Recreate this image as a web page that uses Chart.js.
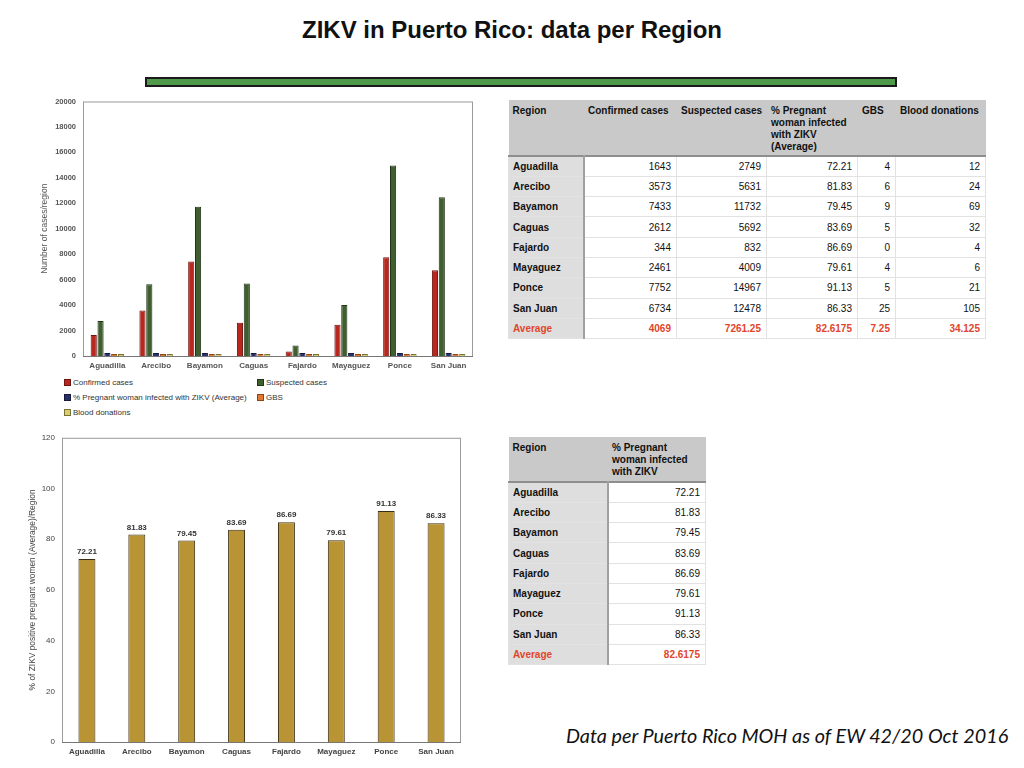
<!DOCTYPE html>
<html>
<head>
<meta charset="utf-8">
<script src="https://cdn.jsdelivr.net/npm/chart.js@4"></script>
<style>
  html, body { margin: 0; padding: 0; background: #fff; }
  body { width: 1024px; height: 768px; position: relative; overflow: hidden; font-family: "Liberation Sans", Arial, sans-serif; }
  #title { position: absolute; left: 0; width: 1024px; top: 16px; text-align: center; font-size: 24px; font-weight: bold; color: #111; }
  #bar { position: absolute; left: 145px; top: 77px; width: 748px; height: 6px; background: #4f9a4a; border: 2px solid #1a1a1a; }
  .chartbox { position: absolute; }
  #legend1 { position: absolute; left: 64px; top: 377px; width: 400px; font-size: 8px; color: #333; display: grid; grid-template-columns: 193px 200px; row-gap: 4px; }
  #legend1 span.sw { display: inline-block; width: 5px; height: 5px; margin-right: 2px; border: 1px solid #555; vertical-align: -1px; }
  #legend1 div { white-space: nowrap; height: 11px; line-height: 11px; }
  table { position: absolute; border-collapse: collapse; font-size: 10px; color: #111; table-layout: fixed; }
  th, td { box-sizing: border-box; }
  th { background: #c9c9c9; font-weight: bold; text-align: left; vertical-align: top; padding: 5px 2px 0 4px; line-height: 12px; border-right: 1px solid #c9c9c9; }
  thead tr { border-bottom: 2px solid #8e8e8e; }
  td { height: 20.3px; padding: 0 5px; text-align: right; border: 1px solid #e2e2e2; }
  td.rg { background: #dedede; font-weight: bold; text-align: left; border-right: 2px solid #a0a0a0; padding-left: 4px; }
  tr.avg td { color: #e0452b; font-weight: bold; }
  #footer { position: absolute; left: 566px; top: 723px; font-family: Lato, "Open Sans", sans-serif; font-style: italic; font-size: 19.8px; color: #111; white-space: nowrap; }
</style>
</head>
<body>
<div id="title">ZIKV in Puerto Rico: data per Region</div>
<div id="bar"></div>

<div class="chartbox" style="left:40px; top:90px; width:440px; height:285px;"><canvas id="casesChart"></canvas></div>
<div id="legend1"></div>

<div class="chartbox" style="left:28px; top:426px; width:442px; height:334px;"><canvas id="pregChart"></canvas></div>

<table id="table1" style="left:508px; top:100px; width:477px;"></table>
<table id="table2" style="left:508px; top:437px; width:197px;"></table>

<div id="footer">Data per Puerto Rico MOH as of EW 42/20 Oct 2016</div>

<script>
// data per region (Puerto Rico MOH, EW 42)
const regions = ['Aguadilla', 'Arecibo', 'Bayamon', 'Caguas', 'Fajardo', 'Mayaguez', 'Ponce', 'San Juan'];
const confirmedCases = [1643, 3573, 7433, 2612, 344, 2461, 7752, 6734];
const suspectedCases = [2749, 5631, 11732, 5692, 832, 4009, 14967, 12478];
const pregnantPct = [72.21, 81.83, 79.45, 83.69, 86.69, 79.61, 91.13, 86.33];
const gbsCases = [4, 6, 9, 5, 0, 4, 5, 25];
const bloodDonations = [12, 24, 69, 32, 4, 6, 21, 105];
const averages = ['4069', '7261.25', '82.6175', '7.25', '34.125'];
const casesTicks = [0, 2000, 4000, 6000, 8000, 10000, 12000, 14000, 16000, 18000, 20000];
const pregTicks = [0, 20, 40, 60, 80, 100, 120];

const tickFont = { family: 'Liberation Sans', size: 8 };
const boldFont = { family: 'Liberation Sans', size: 8, weight: 'bold' };

// frame around plot area (Excel style)
const plotFrame = {
    id: 'plotFrame',
    beforeDatasetsDraw(chart) {
        const a = chart.chartArea, ctx = chart.ctx;
        ctx.save();
        ctx.strokeStyle = '#9a9a9a';
        ctx.lineWidth = 1;
        ctx.strokeRect(a.left + 0.5, a.top + 0.5, a.right - a.left - 1, a.bottom - a.top);
        ctx.strokeStyle = '#777';
        ctx.beginPath();
        ctx.moveTo(a.left, a.bottom + 0.5);
        ctx.lineTo(a.right, a.bottom + 0.5);
        ctx.stroke();
        ctx.restore();
    }
};

// value labels above the bars
const valueLabels = {
    id: 'valueLabels',
    afterDatasetsDraw(chart) {
        const ctx = chart.ctx;
        const meta = chart.getDatasetMeta(0);
        ctx.save();
        ctx.font = 'bold 8px "Liberation Sans"';
        ctx.fillStyle = '#333';
        ctx.textAlign = 'center';
        ctx.textBaseline = 'bottom';
        meta.data.forEach((bar, i) => {
            ctx.fillText(pregnantPct[i].toFixed(2), bar.x, bar.y - 3);
        });
        ctx.restore();
    }
};

function casesDataset(label, data, fill, edge, minLen) {
    return {
        label: label, data: data, backgroundColor: fill, borderColor: edge, borderWidth: 1,
        barPercentage: 0.9, categoryPercentage: 0.7, minBarLength: minLen
    };
}

const casesSets = [
    casesDataset('Confirmed cases', confirmedCases, '#b8281f', '#6e1510', 0),
    casesDataset('Suspected cases', suspectedCases, '#3f5f2f', '#22351a', 0),
    casesDataset('% Pregnant woman infected with ZIKV (Average)', pregnantPct, '#27306a', '#151a3d', 3),
    casesDataset('GBS', gbsCases, '#e07a2e', '#8d4513', 2),
    casesDataset('Blood donations', bloodDonations, '#d9cd72', '#7b7130', 2)
];

new Chart(document.getElementById('casesChart'), {
    type: 'bar',
    data: { labels: regions, datasets: casesSets },
    options: {
        responsive: true, maintainAspectRatio: false, animation: false,
        layout: { padding: { top: 1, right: 7, left: 0, bottom: 0 } },
        plugins: { legend: { display: false }, tooltip: { enabled: false } },
        scales: {
            x: {
                grid: { display: false, drawTicks: false }, border: { display: false },
                ticks: { font: boldFont, color: '#555', padding: 5, maxRotation: 0 },
                afterFit(scale) { scale.height = 19; }
            },
            y: {
                min: 0, max: 20000,
                afterBuildTicks(scale) { scale.ticks = casesTicks.map(v => ({ value: v })); },
                grid: { display: false, drawTicks: false }, border: { display: false },
                ticks: { font: { family: 'Liberation Sans', size: 7.5, weight: 'bold' }, color: '#555', padding: 7, callback: v => String(v) },
                title: { display: true, text: 'Number of cases/region', font: { family: 'Liberation Sans', size: 8.5 }, color: '#555', padding: { top: 0, bottom: 0 } },
                afterFit(scale) { scale.width = 43; }
            }
        }
    },
    plugins: [plotFrame]
});

// HTML legend in two columns, like the original
const legend1 = document.getElementById('legend1');
legend1.innerHTML = casesSets.map(ds =>
    `<div><span class="sw" style="background:${ds.backgroundColor};border-color:${ds.borderColor}"></span>${ds.label}</div>`
).join('');

new Chart(document.getElementById('pregChart'), {
    type: 'bar',
    data: {
        labels: regions,
        datasets: [{
            label: '% Pregnant woman infected with ZIKV',
            data: pregnantPct,
            backgroundColor: '#b89434', borderColor: '#3a2e10', borderWidth: 1,
            barPercentage: 1, categoryPercentage: 0.34
        }]
    },
    options: {
        responsive: true, maintainAspectRatio: false, animation: false,
        layout: { padding: { top: 2, right: 9, left: 0, bottom: 0 } },
        plugins: { legend: { display: false }, tooltip: { enabled: false } },
        scales: {
            x: {
                grid: { display: false, drawTicks: false }, border: { display: false },
                ticks: { font: boldFont, color: '#444', padding: 5, maxRotation: 0 },
                afterFit(scale) { scale.height = 18; }
            },
            y: {
                min: 0, max: 120,
                afterBuildTicks(scale) { scale.ticks = pregTicks.map(v => ({ value: v })); },
                grid: { display: false, drawTicks: false }, border: { display: false },
                ticks: { font: tickFont, color: '#444', padding: 7, callback: v => String(v) },
                title: { display: true, text: '% of ZIKV positive pregnant women (Average)/Region', font: { family: 'Liberation Sans', size: 8.4 }, color: '#444', padding: { top: 0, bottom: 0 } },
                afterFit(scale) { scale.width = 34; }
            }
        }
    },
    plugins: [plotFrame, valueLabels]
});

// tables
function buildTable(el, headers, widths, columns, avgRow) {
    let html = '<colgroup>' + widths.map(w => `<col style="width:${w}px">`).join('') + '</colgroup>';
    html += '<thead><tr>' + headers.map(h => `<th>${h}</th>`).join('') + '</tr></thead><tbody>';
    regions.forEach((r, i) => {
        html += `<tr><td class="rg">${r}</td>` + columns.map(c => `<td>${c[i]}</td>`).join('') + '</tr>';
    });
    html += `<tr class="avg"><td class="rg">Average</td>` + avgRow.map(v => `<td>${v}</td>`).join('') + '</tr></tbody>';
    el.innerHTML = html;
}

buildTable(document.getElementById('table1'),
    ['Region', 'Confirmed cases', 'Suspected cases', '% Pregnant woman infected with ZIKV (Average)', 'GBS', 'Blood donations'],
    [75, 93, 90, 91, 38, 90],
    [confirmedCases, suspectedCases, pregnantPct.map(v => v.toFixed(2)), gbsCases, bloodDonations],
    averages);
document.querySelector('#table1 thead tr').style.height = '56px';

buildTable(document.getElementById('table2'),
    ['Region', '% Pregnant woman infected with ZIKV'],
    [99, 98],
    [pregnantPct.map(v => v.toFixed(2))],
    [averages[2]]);
document.querySelector('#table2 thead tr').style.height = '45px';
</script>
</body>
</html>
